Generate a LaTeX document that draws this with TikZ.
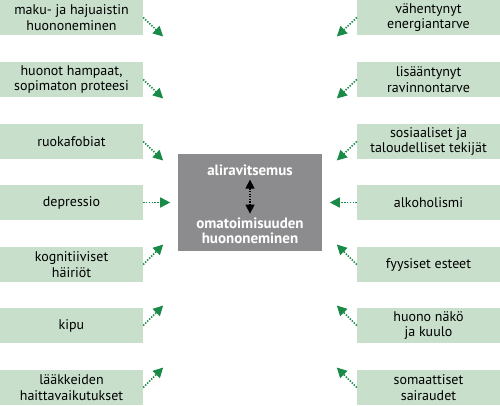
\documentclass[tikz,border=0pt]{standalone}
\usepackage{fontspec}
\setmainfont{PT Sans}
\usetikzlibrary{arrows.meta, positioning}
\definecolor{boxgreen}{HTML}{C7DFCB}
\definecolor{arrgreen}{HTML}{1A8A48}
\definecolor{midgray}{HTML}{8C8C8E}
\tikzset{
    factor/.style={
        fill=boxgreen,
        minimum width=143pt,
        minimum height=35pt,
        inner sep=0pt,
        align=center,
        font=\fontsize{14}{15.5}\selectfont
    },
    centrebox/.style={
        fill=midgray,
        minimum width=144pt,
        minimum height=97pt,
        inner sep=0pt
    },
    centretext/.style={
        text=white,
        align=center,
        inner sep=1pt,
        font=\bfseries\fontsize{15}{15.5}\selectfont
    },
    effect/.style={-{Triangle[length=10pt,width=10pt]}, arrgreen, line width=1.6pt, dash pattern=on 1.4pt off 1.4pt},
    twoway/.style={{Triangle[length=9pt,width=9pt]}-{Triangle[length=9pt,width=9pt]}, black, line width=1.3pt, dash pattern=on 1.3pt off 1.3pt, shorten <=3pt, shorten >=3pt}
}

\begin{document}
\begin{tikzpicture}[x=1pt,y=-1pt]
\useasboundingbox (0,0) rectangle (500,405);

% left column
\node[factor] (l1) at (71.5,17.5) {maku- ja hajuaistin\\ huononeminen};
\node[factor] (l2) at (71.5,79.5) {huonot hampaat,\\ sopimaton proteesi};
\node[factor] (l3) at (71.5,141.5) {ruokafobiat};
\node[factor] (l4) at (71.5,202.5) {depressio};
\node[factor] (l5) at (71.5,264.5) {kognitiiviset\\ häiriöt};
\node[factor] (l6) at (71.5,325.5) {kipu};
\node[factor] (l7) at (71.5,387.5) {lääkkeiden\\ haittavaikutukset};

% right column
\node[factor] (r1) at (428.5,17.5) {vähentynyt\\ energiantarve};
\node[factor] (r2) at (428.5,79.5) {lisääntynyt\\ ravinnontarve};
\node[factor] (r3) at (428.5,141.5) {sosiaaliset ja\\ taloudelliset tekijät};
\node[factor] (r4) at (428.5,202.5) {alkoholismi};
\node[factor] (r5) at (428.5,264.5) {fyysiset esteet};
\node[factor] (r6) at (428.5,325.5) {huono näkö\\ ja kuulo};
\node[factor] (r7) at (428.5,387.5) {somaattiset\\ sairaudet};

% centre
\node[centrebox] (mid) at (250,202.5) {};
\node[centretext] (ali) at (250,170) {aliravitsemus};
\node[centretext] (oma) at (250,231) {omatoimisuuden\\ huononeminen};
\draw[twoway] (ali.south) -- (oma.north);

% arrow tips
\coordinate (l1t) at ([shift={(20,19)}]l1.east);
\coordinate (l2t) at ([shift={(20,19)}]l2.east);
\coordinate (l3t) at ([shift={(20,19)}]l3.east);
\coordinate (l4t) at ([shift={(27,0)}]l4.east);
\coordinate (l5t) at ([shift={(20,-20)}]l5.east);
\coordinate (l6t) at ([shift={(20,-20)}]l6.east);
\coordinate (l7t) at ([shift={(20,-20)}]l7.east);
\coordinate (r1t) at ([shift={(-20,19)}]r1.west);
\coordinate (r2t) at ([shift={(-20,19)}]r2.west);
\coordinate (r3t) at ([shift={(-20,19)}]r3.west);
\coordinate (r4t) at ([shift={(-27,0)}]r4.west);
\coordinate (r5t) at ([shift={(-20,-20)}]r5.west);
\coordinate (r6t) at ([shift={(-20,-20)}]r6.west);
\coordinate (r7t) at ([shift={(-20,-20)}]r7.west);

\draw[effect] (l1.east) -- (l1t);
\draw[effect] (l2.east) -- (l2t);
\draw[effect] (l3.east) -- (l3t);
\draw[effect] (l4.east) -- (l4t);
\draw[effect] (l5.east) -- (l5t);
\draw[effect] (l6.east) -- (l6t);
\draw[effect] (l7.east) -- (l7t);
\draw[effect] (r1.west) -- (r1t);
\draw[effect] (r2.west) -- (r2t);
\draw[effect] (r3.west) -- (r3t);
\draw[effect] (r4.west) -- (r4t);
\draw[effect] (r5.west) -- (r5t);
\draw[effect] (r6.west) -- (r6t);
\draw[effect] (r7.west) -- (r7t);

\end{tikzpicture}
\end{document}
